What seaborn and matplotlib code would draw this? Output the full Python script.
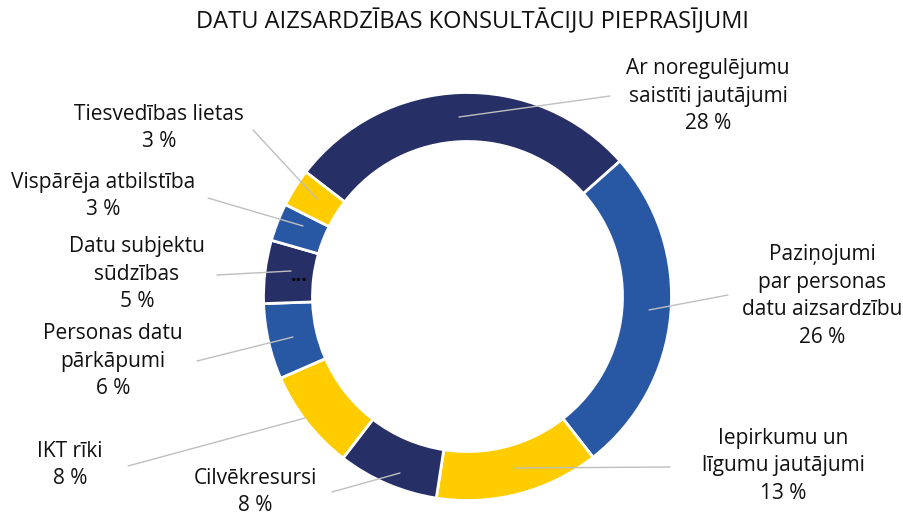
import matplotlib
matplotlib.use("Agg")
import matplotlib.pyplot as plt
import seaborn as sns

sns.set_theme(style="white")
plt.rcParams["font.family"] = ["Open Sans", "DejaVu Sans"]

categories = [
    "Ar noregulējumu\nsaistīti jautājumi",
    "Paziņojumi\npar personas\ndatu aizsardzību",
    "Iepirkumu un\nlīgumu jautājumi",
    "Cilvēkresursi",
    "IKT rīki",
    "Personas datu\npārkāpumi",
    "Datu subjektu\nsūdzības",
    "Vispārēja atbilstība",
    "Tiesvedības lietas",
]
shares = [28, 26, 13, 8, 8, 6, 5, 3, 3]
title = "DATU AIZSARDZĪBAS KONSULTĀCIJU PIEPRASĪJUMI"

NAVY, BLUE, YELLOW = "#262F66", "#2858A4", "#FFCC00"
colors = [NAVY, BLUE, YELLOW, NAVY, YELLOW, BLUE, NAVY, BLUE, YELLOW]

W, H = 904, 518
fig = plt.figure(figsize=(W / 100, H / 100), dpi=100)
ax = fig.add_axes([0, 0, 1, 1])

cx, cy, R = 467.5, H - 296.5, 204
wedges, _ = ax.pie(
    shares, colors=colors, startangle=142.4, counterclock=False,
    radius=R, center=(cx, cy),
    wedgeprops=dict(width=49, edgecolor="white", linewidth=2),
)
ax.set_xlim(0, W)
ax.set_ylim(0, H)
ax.set_aspect("equal")
ax.axis("off")

# label block centre (x, y from top), leader line: point on ring -> label end
label_pos = [
    (708, 96, (459, 117), (610, 96)),
    (822, 296, (649, 310), (728, 295)),
    (783, 466, (515, 468), (670, 467)),
    (255, 492, (400, 473), (332, 492)),
    (70, 465, (305, 418), (128, 466)),
    (113, 361, (293, 337), (197, 361)),
    (137, 274, (291, 271), (217, 275)),
    (103, 196, (303, 226), (208, 198)),
    (159, 128, (317, 199), (253, 130)),
]

for cat, val, (tx, ty, p0, p1) in zip(categories, shares, label_pos):
    ax.plot([p0[0], p1[0]], [H - p0[1], H - p1[1]], color="#BFBFBF", lw=1, zorder=3)
    ax.text(tx, H - ty, f"{cat}\n{val} %", ha="center", va="center",
            fontsize=15, color="#111111", linespacing=1.4, zorder=4)

ax.text(299, H - 276, "...", ha="center", va="center", fontsize=14,
        fontweight="bold", color="black")

ax.text(473, H - 22, title, ha="center", va="center", fontsize=17, color="#111111")

fig.savefig("out.png", dpi=100)
